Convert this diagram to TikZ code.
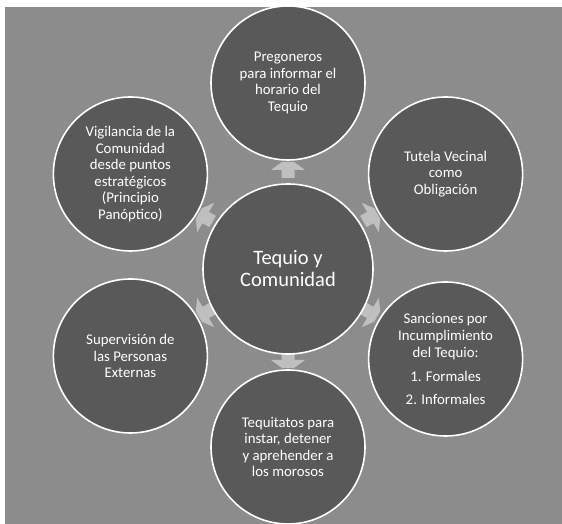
\documentclass[tikz,border=0pt]{standalone}
\usepackage{fontspec}
\setmainfont{Carlito}
\usetikzlibrary{calc}
\definecolor{fondo}{HTML}{8C8C8C}
\definecolor{circulo}{HTML}{595959}
\definecolor{flechagris}{HTML}{BFBFBF}

\begin{document}
\begin{tikzpicture}[x=1pt, y=1pt,
  sat/.style={circle, draw=white, line width=1.6pt, fill=circulo, text=white,
    minimum size=154pt, inner sep=0pt, align=center,
    font=\fontsize{14.8}{16.6}\selectfont},
  hub/.style={sat, minimum size=170pt, font=\fontsize{20.5}{22}\selectfont},
  flecha/.style={fill=flechagris}]
  \useasboundingbox (0,0) rectangle (562,524);
  \fill[fondo] (5,0) rectangle (562,517);

  \coordinate (H) at (288,259);

  \foreach \a in {90,30,-30,-90,-150,150}
    \fill[flecha, shift={($(H)+(\a:95)$)}, rotate=\a]
      (-8,-6.5) -- (0,-6.5) -- (0,-17) -- (8,-6) -- (8,6) -- (0,17) -- (0,6.5) -- (-8,6.5) -- cycle;

  \node[hub] (tequio) at (288,255) {Tequio y\\Comunidad};

  \node[sat] (pregoneros) at ($(H)+(90:182)$) {Pregoneros\\para informar el\\horario del\\Tequio};
  \node[sat] (tutela) at ($(H)+(30:182)$) {Tutela Vecinal\\como\\Obligación};
  \node[sat] (sanciones) at ($(H)+(-30:182)+(0,-3)$) {Sanciones por\\Incumplimiento\\del Tequio:\\[8pt]1. Formales\\[6pt]2. Informales};
  \node[sat] (tequitatos) at ($(H)+(-90:182)$) {Tequitatos para\\instar, detener\\y aprehender a\\los morosos};
  \node[sat] (supervision) at ($(H)+(-150:182)$) {Supervisión de\\las Personas\\Externas};
  \node[sat] (vigilancia) at ($(H)+(150:182)$) {Vigilancia de la\\Comunidad\\desde puntos\\estratégicos\\(Principio\\Panóptico)};
\end{tikzpicture}
\end{document}
